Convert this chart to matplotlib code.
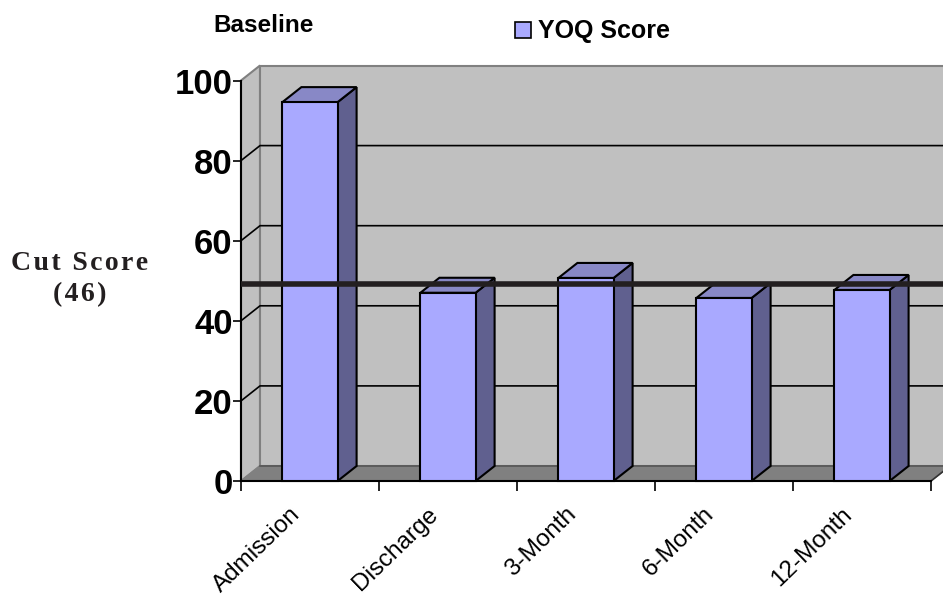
import matplotlib
matplotlib.use("Agg")
import matplotlib.pyplot as plt
from matplotlib.patches import Polygon, Rectangle

categories = ["Admission", "Discharge", "3-Month", "6-Month", "12-Month"]
yoq_score = [94.6, 47.0, 50.7, 45.7, 47.7]
y_ticks = [0, 20, 40, 60, 80, 100]
cut_line = 49.2

W, H = 943, 596
plt.rcParams["font.family"] = ["Liberation Sans", "DejaVu Sans"]
fig = plt.figure(figsize=(W / 100, H / 100), dpi=100)
ax = fig.add_axes([241 / W, 1 - 481 / H, 690 / W, 400.5 / H])
ax.set_xlim(0, 5)
ax.set_ylim(0, 100)

# depth of the fake 3d, in data units
dx = 19 / 138
dy = 15 / 4.005

def poly(pts, fc, ec="black", lw=1.5, z=2):
    ax.add_patch(Polygon(pts, closed=True, facecolor=fc, edgecolor=ec, linewidth=lw,
                         zorder=z, clip_on=False, joinstyle="miter"))

# walls and floor
poly([(0, 0), (dx, dy), (dx, 100 + dy), (0, 100)], "#c0c0c0", "#808080", 1.5, 1)
poly([(dx, dy), (5.2, dy), (5.2, 100 + dy), (dx, 100 + dy)], "#c0c0c0", "#808080", 1.5, 1)
poly([(0, 0), (dx, dy), (5 + dx, dy), (5, 0)], "#808080", "#808080", 1, 1)
ax.plot([0, 5, 5 + dx], [0, 0, dy], color="#333333", lw=1.2, zorder=1.5, clip_on=False)

# gridlines on back wall and side wall
for v in y_ticks[1:-1]:
    ax.plot([0, dx, 5.2], [v, v + dy, v + dy], color="black", lw=1.2, zorder=1.5, clip_on=False)
ax.plot([dx, 5.2], [dy, dy], color="#555555", lw=1.2, zorder=1.5, clip_on=False)

# bars
bar_w = 0.4
for i, v in enumerate(yoq_score):
    x0 = i + 0.5 - bar_w / 2
    x1 = x0 + bar_w
    poly([(x1, 0), (x1 + dx, dy), (x1 + dx, v + dy), (x1, v)], "#60608f")
    poly([(x0, v), (x0 + dx, v + dy), (x1 + dx, v + dy), (x1, v)], "#8888c6")
    ax.add_patch(Rectangle((x0, 0), bar_w, v, facecolor="#a9a9ff", edgecolor="black",
                           linewidth=1.5, zorder=3, clip_on=False))

# cut score line
ax.plot([0, 5.2], [cut_line, cut_line], color="#231f20", lw=4, zorder=5,
        clip_on=False, solid_capstyle="butt")

for s in ["top", "right"]:
    ax.spines[s].set_visible(False)
ax.spines["left"].set_linewidth(1.5)
ax.spines["bottom"].set_linewidth(1.5)
ax.spines["left"].set_zorder(1.6)
ax.spines["bottom"].set_zorder(1.6)
ax.set_yticks(y_ticks)
ax.set_yticklabels([str(v) for v in y_ticks], fontsize=25, fontweight="bold")
ax.tick_params(axis="y", length=6, width=1.2, pad=0)
ax.set_xticks(range(6))
ax.set_xticklabels([])
ax.tick_params(axis="x", length=7, width=1.2)

for i, c in enumerate(categories):
    ax.annotate(c, xy=(i + 0.5, 0), xytext=(-15, -16), textcoords="offset points",
                rotation=44, ha="right", va="top", rotation_mode="anchor", fontsize=17.5)

# legend and notes
fig.text(264 / W, 1 - 26 / H, "Baseline", fontsize=17.5, fontweight="bold", ha="center", va="center")
fig.add_artist(Rectangle((515 / W, 1 - 38 / H), 16 / W, 16 / H, transform=fig.transFigure,
                         facecolor="#a9a9ff", edgecolor="black", linewidth=1.2))
fig.text(538 / W, 1 - 31 / H, "YOQ Score", fontsize=18, fontweight="bold", ha="left", va="center")
serif = ["Liberation Serif", "DejaVu Serif"]
fig.text(80 / W, 1 - 263 / H, "C\u200au\u200at\u200a \u200aS\u200ac\u200ao\u200ar\u200ae", family=serif,
         fontsize=20, fontweight="bold", color="#231f20", ha="center", va="center")
fig.text(80 / W, 1 - 295 / H, "(\u200a4\u200a6\u200a)", family=serif,
         fontsize=20, fontweight="bold", color="#231f20", ha="center", va="center")

fig.savefig("out.png", dpi=100)
